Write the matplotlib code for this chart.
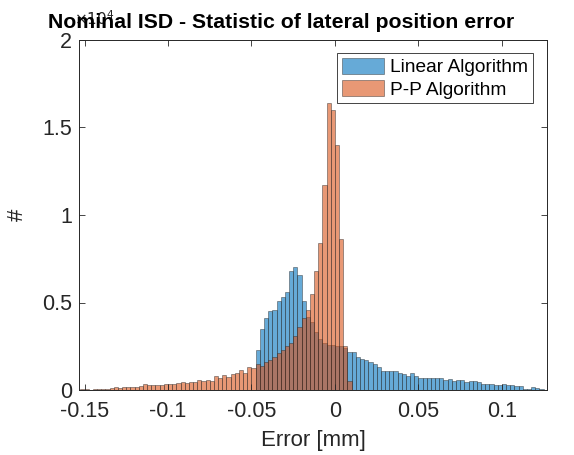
import matplotlib
matplotlib.use("Agg")
import matplotlib.pyplot as plt
import numpy as np

plt.rcParams["font.family"] = ["Liberation Sans", "DejaVu Sans"]

# histogram data (counts per bin), bin width 0.0025 mm
bin_width = 0.0025

pp_first_edge = -0.1525
pp_counts = [
    30, 40, 20, 40, 60, 50, 80, 120, 180, 140,
    160, 150, 200, 170, 220, 330, 280, 300, 310, 290,
    330, 320, 360, 420, 450, 400, 480, 460, 550, 520,
    580, 500, 800, 700, 850, 750, 900, 1000, 1150, 950,
    1300, 1250, 1500, 1400, 1600, 1700, 1900, 2100, 2300, 2500,
    2700, 3100, 3600, 4100, 4600, 5500, 6800, 8400, 11700, 16400,
    16000, 14000, 8600, 2500, 500,
]

lin_first_edge = -0.0475
lin_counts = [
    2300, 3500, 4100, 4500, 4600, 5100, 5300, 5600, 6800, 7000,
    6600, 5100, 4200, 3900, 3300, 2900, 2700, 2600, 2600, 2500,
    2500, 2400, 2200, 2200, 1900, 1800, 1700, 1600, 1500, 1300,
    1100, 1100, 1100, 1100, 1000, 900, 800, 1000, 800, 700,
    700, 700, 700, 700, 700, 600, 650, 500, 600, 550,
    450, 500, 500, 450, 350, 350, 350, 300, 300, 320,
    300, 300, 250, 250, 50, 40, 200, 120, 40,
]

series_labels = ["Linear Algorithm", "P-P Algorithm"]
lin_color = "#0072BD"
pp_color = "#D95319"

fig = plt.figure(figsize=(5.74, 4.55), dpi=100)
ax = fig.add_axes([79 / 574, 65 / 455, 468 / 574, 350 / 455])

lin_edges = lin_first_edge + bin_width * np.arange(len(lin_counts))
pp_edges = pp_first_edge + bin_width * np.arange(len(pp_counts))

ax.bar(lin_edges, lin_counts, width=bin_width, align="edge", color=lin_color,
       alpha=0.6, edgecolor="#262626", linewidth=0.5, label=series_labels[0])
ax.bar(pp_edges, pp_counts, width=bin_width, align="edge", color=pp_color,
       alpha=0.6, edgecolor="#262626", linewidth=0.5, label=series_labels[1])

ax.set_xlim(-0.1533, 0.127)
ax.set_ylim(0, 20000)
ax.set_xticks([-0.15, -0.1, -0.05, 0, 0.05, 0.1])
ax.set_xticklabels(["-0.15", "-0.1", "-0.05", "0", "0.05", "0.1"])
ax.set_yticks([0, 5000, 10000, 15000, 20000])
ax.set_yticklabels(["0", "0.5", "1", "1.5", "2"])

ax.tick_params(direction="in", top=True, right=True, length=4, width=0.6,
               labelsize=15.5, colors="#262626")
ax.tick_params(axis="x", pad=8)
ax.tick_params(axis="y", pad=5)
for s in ax.spines.values():
    s.set_color("#262626")
    s.set_linewidth(0.7)

ax.set_xlabel("Error [mm]", fontsize=16, color="#262626", labelpad=6)
ax.set_ylabel("#", fontsize=16, color="#262626", labelpad=10, rotation=90)

ax.text(-0.01, 1.035, r"$\times10^{4}$", transform=ax.transAxes, fontsize=11,
        color="#262626", ha="left", va="bottom")
fig.text(281 / 574, 1 - 22 / 455, "Nominal ISD - Statistic of lateral position error",
         fontsize=15.3, fontweight="bold", ha="center", va="center")

leg = ax.legend(loc="upper right", bbox_to_anchor=(0.97, 0.963), fontsize=13.8,
                frameon=True, fancybox=False, edgecolor="#262626", framealpha=1,
                handlelength=2.2, handleheight=0.9, handletextpad=0.3,
                borderpad=0.25, labelspacing=0.2, borderaxespad=0)
leg.get_frame().set_linewidth(0.6)

fig.savefig("out.png", dpi=100, facecolor="white")
